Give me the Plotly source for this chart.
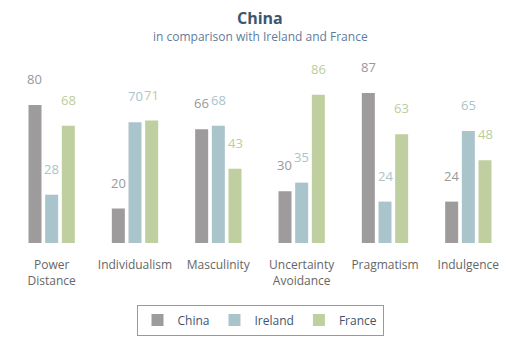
import plotly.graph_objects as go

categories = ["Power<br>Distance", "Individualism", "Masculinity", "Uncertainty<br>Avoidance", "Pragmatism", "Indulgence"]
china = [80, 20, 66, 30, 87, 24]
ireland = [28, 70, 68, 35, 24, 65]
france = [68, 71, 43, 86, 63, 48]

series = [("China", china, "#9d9b9c", "#9a9899"),
          ("Ireland", ireland, "#aac4cc", "#a9c4cc"),
          ("France", france, "#bfcf9f", "#bccd9a")]

FONT = "Open Sans, Noto Sans, sans-serif"
PLOT_TOP, PLOT_BOTTOM = 55, 243
PH = PLOT_BOTTOM - PLOT_TOP

def py(pix):
    return (PLOT_BOTTOM - pix) / PH

fig = go.Figure()
annotations = []
offsets = [-16.7, 0, 16.7]
for (name, vals, color, tcolor), off in zip(series, offsets):
    fig.add_trace(go.Bar(name=name, x=categories, y=vals, marker=dict(color=color, line=dict(width=0)),
                         hoverinfo="skip"))
    for c, v in zip(categories, vals):
        annotations.append(dict(x=c, y=v, xref="x", yref="y", text=str(v), showarrow=False,
                                xshift=off, yshift=15, yanchor="bottom",
                                font=dict(family=FONT, size=13, color=tcolor)))

annotations.append(dict(text="<b>China</b>", x=0.5, y=py(18), xref="paper", yref="paper",
                        showarrow=False, yanchor="middle",
                        font=dict(family=FONT, size=16, color="#3d5670")))
annotations.append(dict(text="in comparison with Ireland and France", x=0.5, y=py(36),
                        xref="paper", yref="paper", showarrow=False, yanchor="middle",
                        font=dict(family=FONT, size=12, color="#5f7d9c")))

fig.update_layout(
    width=520, height=350,
    margin=dict(l=10, r=10, t=PLOT_TOP, b=350 - PLOT_BOTTOM),
    paper_bgcolor="white", plot_bgcolor="white",
    barmode="group", bargap=0.4, bargroupgap=0.22,
    annotations=annotations,
    xaxis=dict(showgrid=False, showline=False, zeroline=False, ticks="",
               ticklabelstandoff=13,
               tickfont=dict(family=FONT, size=12, color="#666666")),
    yaxis=dict(range=[0, 109], visible=False),
    legend=dict(orientation="h", x=0.5, xanchor="center", y=py(320), yanchor="middle",
                bordercolor="#999999", borderwidth=1,
                font=dict(family=FONT, size=12, color="#3d5670"),
                itemwidth=30),
    showlegend=True,
)

fig.write_html("out.html")
